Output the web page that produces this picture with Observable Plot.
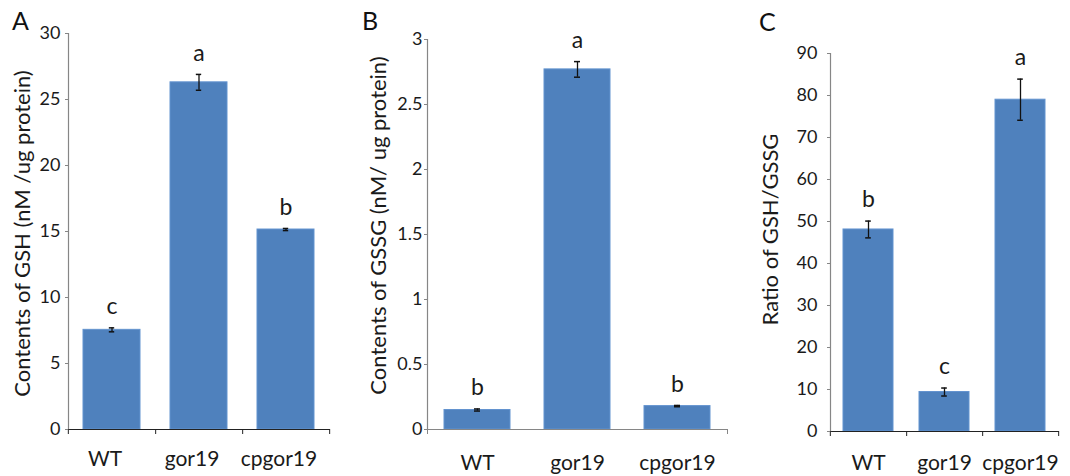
<!DOCTYPE html>
<html>
<head>
<meta charset="utf-8">
<script src="https://cdn.jsdelivr.net/npm/d3@7"></script>
<script src="https://cdn.jsdelivr.net/npm/@observablehq/plot@0.6"></script>
<style>
  html, body { margin: 0; padding: 0; background: #fff; }
  #root { position: relative; width: 1070px; height: 476px; overflow: hidden; font-family: Lato, "Open Sans", sans-serif; color: #1a1a1a; }
  .panel { position: absolute; top: 0; }
  .tag { position: absolute; font-size: 25px; line-height: 25px; font-family: Lato, sans-serif; color: #111; }
</style>
</head>
<body>
<div id="root"></div>
<script>
// ---- data ----
const categories = ["WT", "gor19", "cpgor19"];

const gshValues = [7.55, 26.3, 15.15];
const gshErrors = [0.15, 0.6, 0.08];
const gshLetters = ["c", "a", "b"];
const gshTicks = [0, 5, 10, 15, 20, 25, 30];
const gshLabel = "Contents of GSH (nM /ug protein)";

const gssgValues = [0.15, 2.77, 0.18];
const gssgErrors = [0.008, 0.06, 0.005];
const gssgLetters = ["b", "a", "b"];
const gssgTicks = [0, 0.5, 1, 1.5, 2, 2.5, 3];
const gssgLabel = "Contents of GSSG (nM/ ug protein)";

const ratioValues = [48.1, 9.4, 79.0];
const ratioErrors = [2.0, 0.95, 4.9];
const ratioLetters = ["b", "c", "a"];
const ratioTicks = [0, 10, 20, 30, 40, 50, 60, 70, 80, 90];
const ratioLabel = "Ratio of GSH/GSSG";

const panelTags = ["A", "B", "C"];

// ---- drawing ----
const root = document.getElementById("root");
const BAR = "#4f81bd";
const AXIS_GRAY = "#868686";

function panel(cfg) {
  const data = categories.map((c, i) => ({cat: c, v: cfg.values[i], e: cfg.errors[i], l: cfg.letters[i]}));
  const H = 476;
  const innerW = cfg.width - cfg.ml - cfg.mr;
  const step = innerW / categories.length;
  const bw = step * 0.66;
  const capInset = (bw - 6) / 2;
  const frameCenterY = (cfg.mt + (H - cfg.mb)) / 2;
  const boundaryRight = cfg.allTicks ? data : data.slice(-1);
  const marks = [
    Plot.barY(data, {x: "cat", y: "v", fill: BAR, stroke: "#6393cf", strokeWidth: 1}),
    Plot.ruleY([0], {stroke: cfg.baseStroke, strokeWidth: 1.2}),
    Plot.frame({anchor: "left", stroke: AXIS_GRAY, strokeWidth: 1.2}),
    Plot.ruleX(data.slice(0, 1), {x: "cat", y1: 0, y2: 0, dx: -step / 2, insetBottom: -5, stroke: cfg.baseStroke}),
    Plot.ruleX(boundaryRight, {x: "cat", y1: 0, y2: 0, dx: step / 2, insetBottom: -5, stroke: cfg.baseStroke}),
    Plot.ruleX(data, {x: "cat", y1: d => d.v - d.e, y2: d => d.v + d.e, stroke: "#111", strokeWidth: 1.3}),
    Plot.tickY(data, {x: "cat", y: d => d.v + d.e, insetLeft: capInset, insetRight: capInset, stroke: "#111", strokeWidth: 1.5}),
    Plot.tickY(data, {x: "cat", y: d => d.v - d.e, insetLeft: capInset, insetRight: capInset, stroke: "#111", strokeWidth: 1.5}),
    Plot.text(data, {x: "cat", y: d => d.v + d.e, text: "l", dy: -21, fontSize: 23, lineAnchor: "middle", fill: "#1a1a1a"}),
    Plot.axisY({ticks: cfg.ticks, tickFormat: d => String(d), tickSize: 3, tickPadding: cfg.ytp, fontSize: 18, label: null, stroke: AXIS_GRAY, fill: "#1a1a1a"}),
    Plot.axisX({tickSize: 0, tickPadding: cfg.xtp, fontSize: 21, label: null, dx: cfg.catDx, fill: "#1a1a1a"}),
    Plot.text([cfg.label], {frameAnchor: "left", rotate: -90, dx: cfg.labelX - cfg.ml, dy: cfg.labelY - frameCenterY, fontSize: 22, textAnchor: "middle", lineAnchor: "middle", fill: "#1a1a1a"})
  ];
  const chart = Plot.plot({
    width: cfg.width,
    height: H,
    marginLeft: cfg.ml,
    marginRight: cfg.mr,
    marginTop: cfg.mt,
    marginBottom: cfg.mb,
    style: {fontFamily: "Lato, 'Open Sans', sans-serif", fontSize: "16px", background: "transparent", overflow: "visible", color: "#1a1a1a"},
    x: {domain: categories, paddingInner: 0.34, paddingOuter: 0.17},
    y: {domain: cfg.domain},
    marks
  });
  const wrap = document.createElement("div");
  wrap.className = "panel";
  wrap.style.left = cfg.left + "px";
  wrap.appendChild(chart);
  root.appendChild(wrap);

  const tag = document.createElement("div");
  tag.className = "tag";
  tag.textContent = cfg.tag;
  tag.style.left = cfg.tagX + "px";
  tag.style.top = cfg.tagY + "px";
  root.appendChild(tag);
}

panel({left: 0, width: 345, ml: 68, mr: 15, mt: 33, mb: 47,
  values: gshValues, errors: gshErrors, letters: gshLetters, ticks: gshTicks, domain: [0, 30],
  label: gshLabel, labelX: 22, labelY: 233, ytp: 5, xtp: 22, catDx: -7,
  allTicks: true, baseStroke: "#222", tag: panelTags[0], tagX: 12, tagY: 8});

panel({left: 345, width: 390, ml: 82, mr: 8, mt: 39, mb: 47,
  values: gssgValues, errors: gssgErrors, letters: gssgLetters, ticks: gssgTicks, domain: [0, 3],
  label: gssgLabel, labelX: 33, labelY: 225, ytp: 2, xtp: 26, catDx: 0,
  allTicks: false, baseStroke: AXIS_GRAY, tag: panelTags[1], tagX: 362, tagY: 8});

panel({left: 735, width: 335, ml: 95, mr: 11, mt: 53, mb: 45,
  values: ratioValues, errors: ratioErrors, letters: ratioLetters, ticks: ratioTicks, domain: [0, 90],
  label: ratioLabel, labelX: 35, labelY: 229, ytp: 10, xtp: 24, catDx: 0,
  allTicks: true, baseStroke: "#222", tag: panelTags[2], tagX: 759, tagY: 9});
</script>
</body>
</html>
